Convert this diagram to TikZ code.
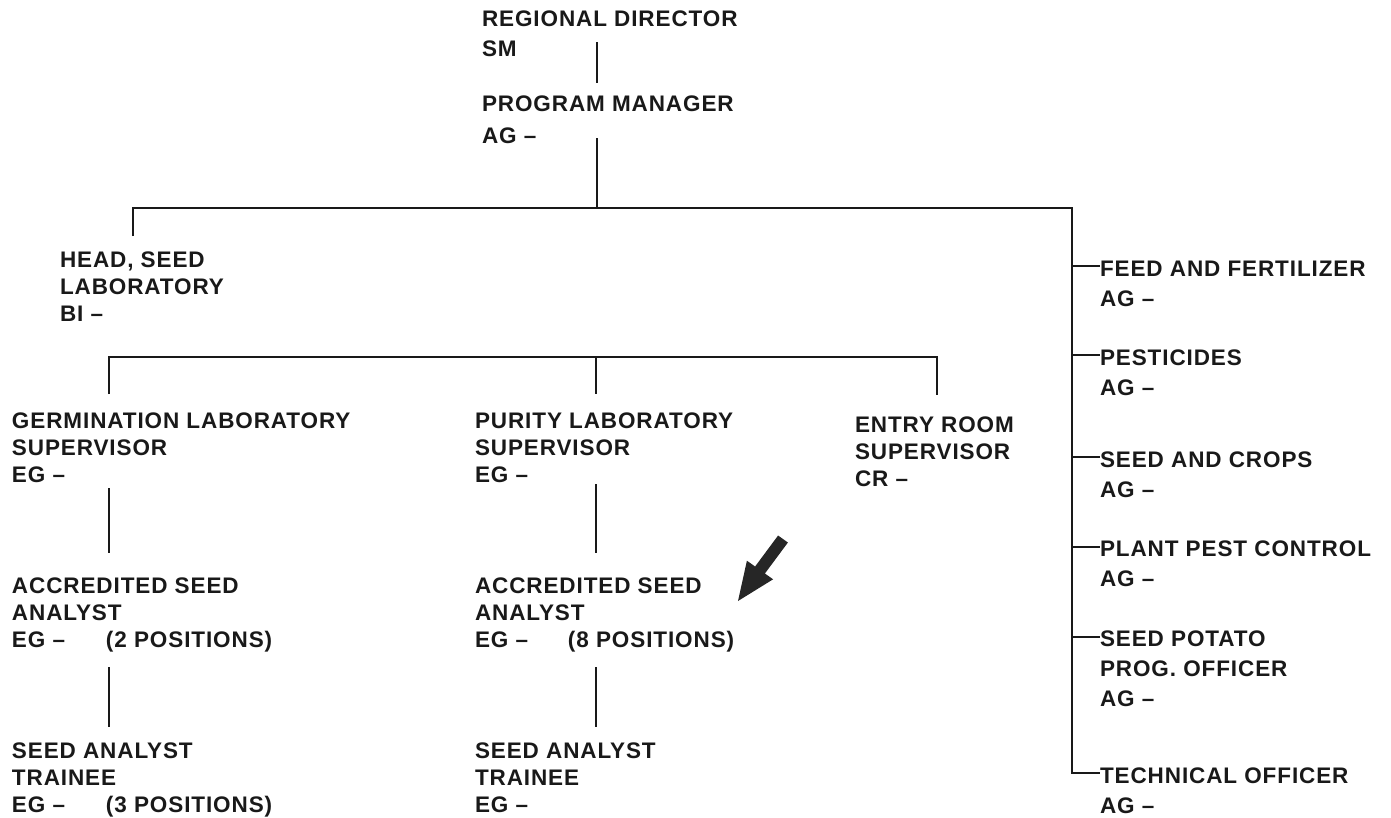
\documentclass[tikz,border=0pt]{standalone}
\usepackage{fontspec}
\setmainfont{Liberation Sans}[LetterSpace=4]
\begin{document}
\begin{tikzpicture}[x=1pt,y=-1pt,
  lbl/.style={anchor=north west, inner sep=0pt, outer sep=0pt, align=left,
    font=\fontsize{22.5}{27}\selectfont\bfseries, text=black!90},
  rlbl/.style={lbl, font=\fontsize{22.5}{30}\selectfont\bfseries},
  ln/.style={line width=2.8pt, draw=black!90}]
\useasboundingbox (0,0) rectangle (1391,817);

% ---- text nodes
\node[rlbl] (rd) at (482,11) {REGIONAL DIRECTOR\\SM};
\node[rlbl, font=\fontsize{22.5}{32}\selectfont\bfseries] (pm) at (482,96) {PROGRAM MANAGER\\AG –};
\node[lbl] (head) at (60,252) {HEAD, SEED\\LABORATORY\\BI –};
\node[lbl] (germ) at (12,413) {GERMINATION LABORATORY\\SUPERVISOR\\EG –};
\node[lbl] (pur) at (475,413) {PURITY LABORATORY\\SUPERVISOR\\EG –};
\node[lbl] (entry) at (855,417) {ENTRY ROOM\\SUPERVISOR\\CR –};
\node[lbl] (accL) at (12,578) {ACCREDITED SEED\\ANALYST\\\makebox[94pt][l]{EG –}(2 POSITIONS)};
\node[lbl] (accM) at (475,578) {ACCREDITED SEED\\ANALYST\\\makebox[93pt][l]{EG –}(8 POSITIONS)};
\node[lbl] (trL) at (12,743) {SEED ANALYST\\TRAINEE\\\makebox[94pt][l]{EG –}(3 POSITIONS)};
\node[lbl] (trM) at (475,743) {SEED ANALYST\\TRAINEE\\EG –};

\node[rlbl] (feed) at (1100,261) {FEED AND FERTILIZER\\AG –};
\node[rlbl] (pest) at (1100,350) {PESTICIDES\\AG –};
\node[rlbl] (crops) at (1100,452) {SEED AND CROPS\\AG –};
\node[rlbl] (plant) at (1100,541) {PLANT PEST CONTROL\\AG –};
\node[rlbl] (pot) at (1100,631) {SEED POTATO\\PROG. OFFICER\\AG –};
\node[rlbl] (tech) at (1100,768) {TECHNICAL OFFICER\\AG –};

% ---- junction coordinates
\coordinate (rdB) at (597,42);
\coordinate (pmT) at (597,83);
\coordinate (pmB) at (597,138);
\coordinate (top) at (597,208);
\coordinate (topL) at (133,208);
\coordinate (topR) at (1072,208);
\coordinate (headT) at (133,236);
\coordinate (barL) at (109,357);
\coordinate (barM) at (596,357);
\coordinate (barR) at (937,357);
\coordinate (germT) at (109,394);
\coordinate (purT) at (596,394);
\coordinate (entT) at (937,395);
\coordinate (germB) at (109,488);
\coordinate (accLT) at (109,553);
\coordinate (purB) at (596,484);
\coordinate (accMT) at (596,553);
\coordinate (accLB) at (109,667);
\coordinate (trLT) at (109,727);
\coordinate (accMB) at (596,667);
\coordinate (trMT) at (596,727);

\coordinate (tFeed) at (1072,266);
\coordinate (tPest) at (1072,355);
\coordinate (tCrops) at (1072,457);
\coordinate (tPlant) at (1072,547);
\coordinate (tPot) at (1072,637);
\coordinate (tTech) at (1072,773);

% ---- connectors
\draw[ln] (rdB) -- (pmT);
\draw[ln] (pmB) -- (top);
\draw[ln] (topL |- headT) -- (topL) -- (topR) -- (tTech) -- (tTech -| tech.west);
\draw[ln] (tFeed) -- (tFeed -| feed.west);
\draw[ln] (tPest) -- (tPest -| pest.west);
\draw[ln] (tCrops) -- (tCrops -| crops.west);
\draw[ln] (tPlant) -- (tPlant -| plant.west);
\draw[ln] (tPot) -- (tPot -| pot.west);
\draw[ln] (germT) -- (barL) -- (barR) -- (entT);
\draw[ln] (barM) -- (purT);
\draw[ln] (germB) -- (accLT);
\draw[ln] (purB) -- (accMT);
\draw[ln] (accLB) -- (trLT);
\draw[ln] (accMB) -- (trMT);

% ---- pointer arrow
\fill[black!85] (778.1,535.5) -- (787.9,542.5) -- (764.9,573.5) -- (773.1,579.3)
  -- (738,601) -- (746.9,560.7) -- (755.1,566.5) -- cycle;
\end{tikzpicture}
\end{document}
